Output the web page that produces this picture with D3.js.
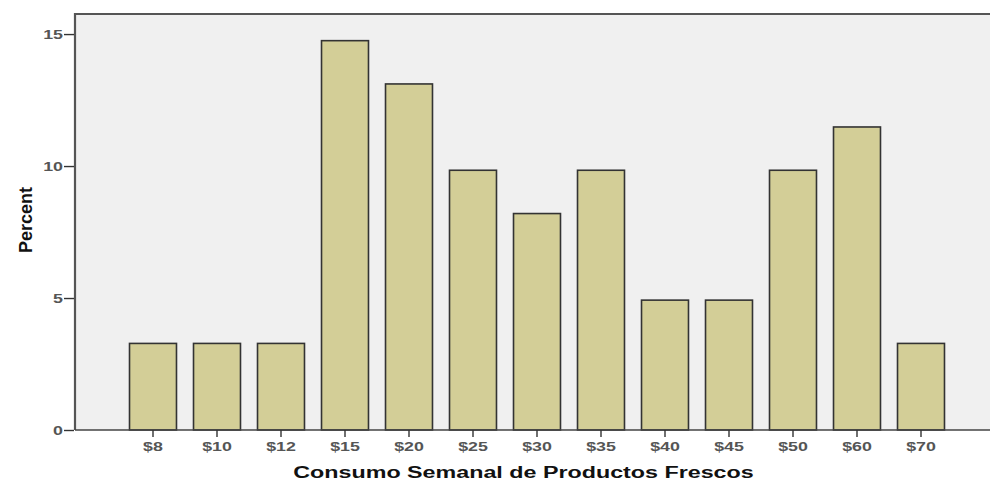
<!DOCTYPE html>
<html><head><meta charset="utf-8">
<script src="https://cdn.jsdelivr.net/npm/d3@7"></script>
<style>body{margin:0;background:#fff}svg{display:block}</style>
</head><body>
<script>
const categories = ["$8","$10","$12","$15","$20","$25","$30","$35","$40","$45","$50","$60","$70"];
const percents = [3.28,3.28,3.28,14.75,13.11,9.84,8.20,9.84,4.92,4.92,9.84,11.48,3.28];
const yTicks = [0,5,10,15];

(function(){
const W=990,H=481, SX=1.37;
const FF="Liberation Sans, Arial, sans-serif";
const svg=d3.select("body").append("svg").attr("width",W).attr("height",H);
const pL=75, pR=992, pT=14, pB=430;
const x=d3.scaleBand().domain(categories).range([121,953]).paddingInner(0.266).paddingOuter(0.133);
const y=d3.scaleLinear().domain([0,15.76]).range([pB,pT]);

svg.append("rect").attr("x",pL).attr("y",pT).attr("width",pR-pL).attr("height",pB-pT)
  .attr("fill","#f0f0f0");

svg.append("g").selectAll("rect").data(percents).join("rect")
  .attr("x",(d,i)=>x(categories[i])).attr("width",x.bandwidth())
  .attr("y",d=>y(d)).attr("height",d=>pB-y(d))
  .attr("fill","#d3ce97").attr("stroke","#333").attr("stroke-width",1.6);

svg.append("path").attr("d",`M${pL},${pB}V${pT}H${pR}`).attr("fill","none").attr("stroke","#555").attr("stroke-width",2.2);
svg.append("line").attr("x1",pL).attr("x2",pR).attr("y1",pB).attr("y2",pB).attr("stroke","#444").attr("stroke-width",1.6);

const ya=svg.append("g").attr("transform",`translate(${pL-1},0)`)
  .call(d3.axisLeft(y).tickValues(yTicks).tickSize(10).tickPadding(1).tickFormat(d3.format("d")));
ya.select(".domain").remove();
ya.selectAll("line").attr("stroke","#333").attr("stroke-width",1.4);
ya.selectAll("text").attr("font-family",FF).attr("font-size",13).attr("font-weight","bold").attr("fill","#555")
  .attr("x",-11/SX).attr("transform",`scale(${SX},1)`);

const xa=svg.append("g").attr("transform",`translate(0,${pB})`)
  .call(d3.axisBottom(x).tickSize(7).tickPadding(5));
xa.select(".domain").remove();
xa.selectAll("line").attr("stroke","#333").attr("stroke-width",1.4);
xa.selectAll("text").attr("font-family",FF).attr("font-size",13).attr("font-weight","bold").attr("fill","#555")
  .attr("transform",`scale(${SX},1)`);

svg.append("text").attr("transform",`translate(523.5,478) scale(${SX},1)`).attr("text-anchor","middle")
  .attr("font-family",FF).attr("font-size",17).attr("font-weight","bold").attr("fill","#111")
  .text("Consumo Semanal de Productos Frescos");

svg.append("text").attr("transform","translate(32,220) rotate(-90)").attr("text-anchor","middle")
  .attr("font-family",FF).attr("font-size",18).attr("font-weight","bold").attr("fill","#111")
  .text("Percent");
})();
</script>
</body></html>
